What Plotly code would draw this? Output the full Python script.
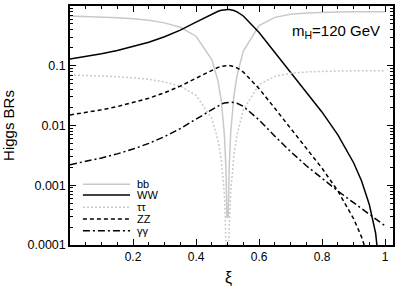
import plotly.graph_objects as go

# xi values (x axis)
xi = [0, 0.05, 0.1, 0.15, 0.2, 0.25, 0.3, 0.35, 0.4, 0.45, 0.47, 0.48, 0.49, 0.495, 0.498,
      0.502, 0.505, 0.51, 0.52, 0.53, 0.55, 0.6, 0.65, 0.7, 0.75, 0.8, 0.85, 0.9, 0.925,
      0.95, 0.97, 0.98, 0.99, 1.0]

br_bb = [0.682, 0.671, 0.656, 0.637, 0.611, 0.575, 0.522, 0.440, 0.312, 0.127, 0.0547, 0.0262,
         0.00698, 0.00179, 0.00029, 0.000295, 0.00186, 0.00755, 0.0305, 0.0681, 0.176, 0.470,
         0.645, 0.727, 0.766, 0.784, 0.793, 0.798, 0.799, 0.799, 0.800, 0.800, 0.800, 0.800]

br_ww = [0.130, 0.143, 0.159, 0.180, 0.208, 0.247, 0.306, 0.395, 0.536, 0.737, 0.816, 0.847,
         0.867, 0.873, 0.874, 0.874, 0.872, 0.866, 0.841, 0.799, 0.681, 0.359, 0.168, 0.0782,
         0.0366, 0.0167, 0.00696, 0.00238, 0.00119, 0.000472, 0.000156, 0.0000664, 0.0000159, None]

br_tautau = [0.0702, 0.0690, 0.0675, 0.0656, 0.0629, 0.0592, 0.0537, 0.0453, 0.0321, 0.0131,
             0.00563, 0.0027, 0.000718, 0.000184, 0.0000299, 0.0000304, 0.000192, 0.000777,
             0.00314, 0.00701, 0.0181, 0.0484, 0.0664, 0.0749, 0.0788, 0.0807, 0.0817, 0.0821,
             0.0822, 0.0823, 0.0823, 0.0823, 0.0823, 0.0824]

br_zz = [0.0150, 0.0165, 0.0183, 0.0207, 0.0240, 0.0286, 0.0353, 0.0456, 0.0618, 0.0850, 0.0941,
         0.0977, 0.100, 0.1007, 0.1009, 0.1009, 0.1007, 0.0999, 0.0970, 0.0922, 0.0786, 0.0414,
         0.0194, 0.00902, 0.00422, 0.00192, 0.000803, 0.000275, 0.000137, 0.0000544, 0.000018,
         0.0000077, 0.0000018, None]

br_gamgam = [0.00221, 0.00249, 0.00286, 0.00335, 0.00403, 0.00502, 0.00651, 0.00889, 0.0128,
             0.0189, 0.0216, 0.0228, 0.0238, 0.0241, 0.0243, 0.0245, 0.0246, 0.0246, 0.0243,
             0.0236, 0.0209, 0.0124, 0.00663, 0.00366, 0.00212, 0.00129, 0.000802, 0.00051,
             0.000408, 0.000326, 0.000273, 0.00025, 0.000228, 0.000209]

names = ["bb", "WW", "ττ", "ZZ", "γγ"]
series = [br_bb, br_ww, br_tautau, br_zz, br_gamgam]

x_tickvals = [0.2, 0.4, 0.6, 0.8, 1.0]
x_ticktext = ["0.2", "0.4", "0.6", "0.8", "1"]
y_tickvals = [1, 0.1, 0.01, 0.001, 0.0001]
y_ticktext = ["1", "0.1", "0.01", "0.001", "0.0001"]

GRAY = "#c9c9c9"
styles = [
    dict(color=GRAY, width=1.5, dash="solid"),
    dict(color="black", width=1.5, dash="solid"),
    dict(color=GRAY, width=1.5, dash="2px,2px"),
    dict(color="black", width=1.5, dash="4px,3px"),
    dict(color="black", width=1.5, dash="7px,3px,2px,3px"),
]

fig = go.Figure()
for name, ys, st in zip(names, series, styles):
    fig.add_trace(go.Scatter(x=xi, y=ys, mode="lines", name=name, line=st,
                             connectgaps=False, showlegend=False))

FONT = "Liberation Sans, Arial, Helvetica, sans-serif"

# manual compact legend
leg_rows = [0.254, 0.209, 0.158, 0.109, 0.060]
shapes = []
annotations = []
for name, st, yy in zip(names, styles, leg_rows):
    shapes.append(dict(type="line", xref="paper", yref="paper", x0=0.040, x1=0.186,
                       y0=yy, y1=yy, line=st))
    annotations.append(dict(x=0.200, y=yy, xref="paper", yref="paper", text=name,
                            showarrow=False, xanchor="left", yanchor="middle",
                            font=dict(size=11, color="black", family=FONT)))

annotations.append(dict(x=0.825, y=0.895, xref="paper", yref="paper",
                        text="m<sub>H</sub>=120 GeV", showarrow=False,
                        xanchor="center", yanchor="middle",
                        font=dict(size=15, color="black", family=FONT)))

# x-axis title
annotations.append(dict(x=0.49, y=-0.138, xref="paper", yref="paper", text="ξ",
                        showarrow=False, xanchor="center", yanchor="middle",
                        font=dict(size=16, color="black", family=FONT)))

minor_y = [m * 10 ** e for e in range(-4, 0) for m in range(2, 10)]

fig.update_layout(
    width=403, height=288,
    margin=dict(l=70, r=10, t=6, b=43, autoexpand=False),
    paper_bgcolor="white", plot_bgcolor="white",
    font=dict(family=FONT, size=12, color="black"),
    shapes=shapes, annotations=annotations,
    showlegend=False,
    xaxis=dict(range=[0, 1.025], tickvals=x_tickvals, ticktext=x_ticktext,
               ticks="inside", ticklen=6, tickwidth=1, tickcolor="black",
               showline=True, linecolor="black", linewidth=1.5, mirror="allticks",
               showgrid=False, zeroline=False, automargin=False,
               minor=dict(ticks="inside", ticklen=3, dtick=0.05, tick0=0,
                          tickcolor="black", showgrid=False),
               tickfont=dict(size=12)),
    yaxis=dict(type="log", range=[-4, 0.0], tickvals=y_tickvals, ticktext=y_ticktext,
               ticks="inside", ticklen=6, tickwidth=1, tickcolor="black",
               showline=True, linecolor="black", linewidth=1.5, mirror="allticks",
               showgrid=False, zeroline=False, automargin=False,
               minor=dict(ticks="inside", ticklen=3, tickvals=minor_y,
                          tickcolor="black", showgrid=False),
               title=dict(text="Higgs BRs", font=dict(size=15)),
               tickfont=dict(size=12.5)),
)

fig.write_html("out.html", config={"displayModeBar": False},
               post_script="document.body.style.margin='0';document.body.style.padding='0';")
